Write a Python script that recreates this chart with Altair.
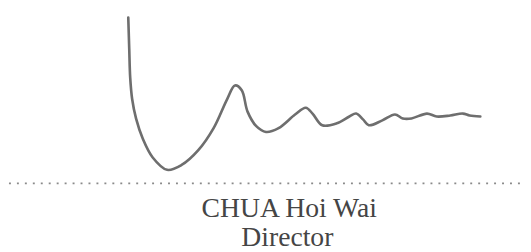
import altair as alt
import pandas as pd

# Signature stroke, traced in image pixel coordinates (x right, y down)
sig_x = [125, 126, 127, 129, 133, 140, 150, 165, 180, 197, 213, 227, 235, 242, 248, 257, 267, 280, 297, 308, 315, 325, 340, 353, 360, 367, 373, 387, 400, 408, 417, 433, 443, 457, 470, 477, 488]
sig_y = [13, 45, 75, 97, 117, 138, 157, 170, 165, 150, 127, 97, 83, 88, 110, 125, 131, 127, 113, 106, 112, 124, 122, 115, 112, 118, 124, 119, 113, 117, 117, 112, 115, 114, 112, 114, 115]

name_text = "CHUA Hoi Wai"
title_text = "Director"

W, H = 515, 236
xs = alt.Scale(domain=[8, 8 + W], nice=False, zero=False)
ys = alt.Scale(domain=[8, 8 + H], nice=False, zero=False, reverse=True)

sig = pd.DataFrame({"i": range(len(sig_x)), "x": sig_x, "y": sig_y})

line = alt.Chart(sig).mark_line(
    color="#6e6e6e", strokeWidth=2.7, interpolate="catmull-rom", strokeCap="round"
).encode(
    x=alt.X("x:Q", scale=xs, axis=None),
    y=alt.Y("y:Q", scale=ys, axis=None),
    order="i:Q",
)

dots = pd.DataFrame({"x": [2], "x2": [531], "y": [184]})
rule = alt.Chart(dots).mark_rule(
    color="#8a8a8a", strokeWidth=2, strokeDash=[2, 6.2]
).encode(
    x=alt.X("x:Q", scale=xs, axis=None),
    x2="x2:Q",
    y=alt.Y("y:Q", scale=ys, axis=None),
)

texts = pd.DataFrame({"x": [291, 289], "y": [219, 249], "t": [name_text, title_text]})
txt = alt.Chart(texts).mark_text(
    font="Liberation Serif", fontSize=28.5, color="#454545", align="center", baseline="alphabetic"
).encode(
    x=alt.X("x:Q", scale=xs, axis=None),
    y=alt.Y("y:Q", scale=ys, axis=None),
    text="t:N",
)

chart = alt.layer(line, rule, txt).properties(
    width=W, height=H, padding=0, background="white"
).configure_view(stroke=None)

chart.save("out.html", embed_options={"renderer": "svg", "actions": False})
